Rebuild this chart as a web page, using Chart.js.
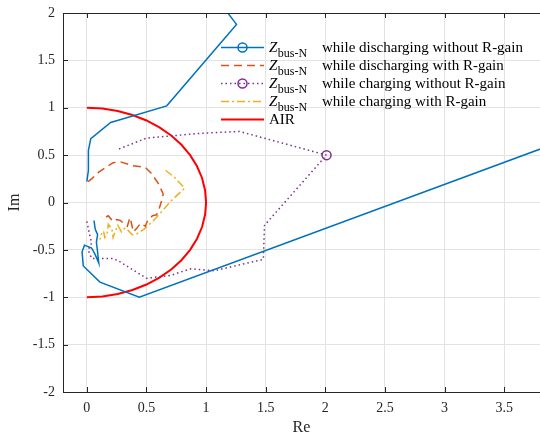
<!DOCTYPE html>
<html>
<head>
<meta charset="utf-8">
<script src="https://cdn.jsdelivr.net/npm/chart.js@4.4.0/dist/chart.umd.min.js"></script>
<style>
  html, body { margin: 0; padding: 0; background: #fff; }
</style>
</head>
<body>
<canvas id="grafico" width="540" height="436"></canvas>
<script>
const xTicks = [0, 0.5, 1, 1.5, 2, 2.5, 3, 3.5];
const yTicks = [-2, -1.5, -1, -0.5, 0, 0.5, 1, 1.5, 2];

// Z_bus-N curves, [Re, Im]; null breaks the line
const descargaSemR = [
  [1.0, 2.3], [1.255, 1.88], [0.67, 1.02], [0.2, 0.845], [0.033, 0.675], [0.013, 0.55],
  [0.013, 0.34], [0.0, 0.22], null,
  [0.06, -0.19], [0.07, -0.28], [0.09, -0.34], [0.08, -0.42], [0.09, -0.52], [0.1, -0.64],
  [0.07, -0.55], [0.04, -0.48], [-0.02, -0.45], [-0.04, -0.52], [-0.03, -0.67],
  [0.11, -0.84], [0.44, -1.0], [4.2, 0.75]
];
const descargaComR = [
  [0.01, 0.22], [0.04, 0.25], [0.1, 0.32], [0.22, 0.42], [0.28, 0.43], [0.38, 0.39],
  [0.49, 0.37], [0.54, 0.31], [0.6, 0.2], [0.64, 0.09], [0.63, 0.03], [0.61, -0.05],
  [0.585, -0.13], [0.55, -0.14], [0.51, -0.19], [0.49, -0.25], [0.45, -0.22], [0.42, -0.27],
  [0.39, -0.31], [0.37, -0.2], [0.36, -0.16], [0.34, -0.25], [0.31, -0.22], [0.28, -0.19],
  [0.25, -0.18], [0.22, -0.2], [0.18, -0.14], [0.15, -0.16], [0.12, -0.15]
];
const cargaSemR = [
  [2.01, 0.5], [1.28, 0.75], [0.95, 0.73], [0.5, 0.68], [0.26, 0.56], null,
  [0.0, -0.2], [0.02, -0.32], [0.04, -0.43], [0.01, -0.5], [0.04, -0.59], [0.22, -0.59],
  [0.27, -0.62], [0.5, -0.8], [0.7, -0.77], [0.87, -0.7], [1.07, -0.72], [1.48, -0.6],
  [1.49, -0.24], [2.01, 0.5]
];
const cargaComR = [
  [0.66, 0.34], [0.74, 0.26], [0.82, 0.15], [0.76, 0.08], [0.7, 0.01], [0.64, -0.08],
  [0.56, -0.19], [0.48, -0.28], [0.42, -0.33], [0.38, -0.34], [0.35, -0.3], [0.32, -0.27],
  [0.29, -0.31], [0.26, -0.24], [0.24, -0.3], [0.22, -0.37], [0.21, -0.28], [0.18, -0.23],
  [0.17, -0.33], [0.15, -0.37], [0.14, -0.3], [0.12, -0.34], [0.11, -0.39]
];
// AIR boundary: right half of the unit circle
const air = [
  [0, 1], [0.1305, 0.9914], [0.2588, 0.9659], [0.3827, 0.9239], [0.5, 0.866], [0.6088, 0.7934],
  [0.7071, 0.7071], [0.7934, 0.6088], [0.866, 0.5], [0.9239, 0.3827], [0.9659, 0.2588],
  [0.9914, 0.1305], [1, 0], [0.9914, -0.1305], [0.9659, -0.2588], [0.9239, -0.3827],
  [0.866, -0.5], [0.7934, -0.6088], [0.7071, -0.7071], [0.6088, -0.7934], [0.5, -0.866],
  [0.3827, -0.9239], [0.2588, -0.9659], [0.1305, -0.9914], [0, -1]
];

const legendas = [
  'while discharging without R-gain',
  'while discharging with R-gain',
  'while charging without R-gain',
  'while charging with R-gain',
  'AIR'
];

const pontos = arr => arr.map(p => p ? { x: p[0], y: p[1] } : { x: null, y: null });

const serie = (dados, cor, traco, largura, marcador) => ({
  data: pontos(dados),
  borderColor: cor,
  borderWidth: largura,
  borderDash: traco,
  backgroundColor: cor,
  pointRadius: ctx => (marcador && ctx.dataIndex === 0) ? 4.5 : 0,
  pointBorderWidth: 1.5,
  pointBorderColor: cor,
  pointBackgroundColor: 'rgba(0,0,0,0)',
  pointHoverRadius: 0,
  tension: 0,
  spanGaps: false,
  fill: false,
  marcador: marcador
});

const datasets = [
  serie(descargaSemR, '#0072BD', [], 1.5, true),
  serie(descargaComR, '#D95319', [8, 5], 1.5, false),
  serie(cargaSemR, '#7E2F8E', [1.5, 3], 1.5, true),
  serie(cargaComR, '#EDB120', [8, 3, 2, 3], 1.5, false),
  serie(air, '#FF0000', [], 2, false)
];

// frame with inward ticks, plus the legend with subscripted labels
const molduraEixos = {
  id: 'molduraEixos',
  afterDraw(chart) {
    const ctx = chart.ctx;
    const a = chart.chartArea;
    const sx = chart.scales.x, sy = chart.scales.y;
    ctx.save();
    ctx.strokeStyle = '#262626';
    ctx.lineWidth = 1;
    ctx.beginPath();
    ctx.rect(Math.round(a.left) + 0.5, Math.round(a.top) + 0.5,
             Math.round(a.right - a.left) + 1, Math.round(a.bottom - a.top));
    ctx.stroke();
    ctx.beginPath();
    xTicks.forEach(v => {
      const px = Math.round(sx.getPixelForValue(v)) + 0.5;
      ctx.moveTo(px, a.bottom); ctx.lineTo(px, a.bottom - 5);
      ctx.moveTo(px, a.top); ctx.lineTo(px, a.top + 5);
    });
    yTicks.forEach(v => {
      const py = Math.round(sy.getPixelForValue(v)) + 0.5;
      ctx.moveTo(a.left, py); ctx.lineTo(a.left + 5, py);
    });
    ctx.stroke();

    const x0 = 221, x1 = 264, xt = 269, xFrase = 322;
    chart.data.datasets.forEach((ds, i) => {
      const y = 47.5 + 18 * i;
      ctx.strokeStyle = ds.borderColor;
      ctx.lineWidth = ds.borderWidth;
      ctx.setLineDash(ds.borderDash);
      ctx.beginPath(); ctx.moveTo(x0, y); ctx.lineTo(x1, y); ctx.stroke();
      ctx.setLineDash([]);
      if (ds.marcador) {
        ctx.lineWidth = 1.5;
        ctx.beginPath(); ctx.arc((x0 + x1) / 2, y, 4.5, 0, 2 * Math.PI); ctx.stroke();
      }
      ctx.fillStyle = '#000';
      ctx.textBaseline = 'alphabetic';
      ctx.textAlign = 'left';
      if (i < 4) {
        ctx.font = 'italic 15px "Liberation Serif"';
        ctx.fillText('Z', xt, y + 4);
        const wz = ctx.measureText('Z').width;
        ctx.font = '12px "Liberation Serif"';
        ctx.fillText('bus-N', xt + wz + 0.5, y + 9);
        ctx.font = '15px "Liberation Serif"';
        ctx.fillText(legendas[i], xFrase, y + 4);
      } else {
        ctx.font = '15px "Liberation Serif"';
        ctx.fillText(legendas[i], xt, y + 4);
      }
    });
    ctx.restore();
  }
};

const fonteEixo = { family: '"Liberation Serif"', size: 14 };

new Chart(document.getElementById('grafico').getContext('2d'), {
  type: 'line',
  data: { datasets: datasets },
  options: {
    responsive: false,
    animation: false,
    devicePixelRatio: 1,
    layout: { autoPadding: false, padding: { top: 13, right: 0, left: 0, bottom: 0 } },
    plugins: { legend: { display: false }, tooltip: { enabled: false } },
    scales: {
      x: {
        type: 'linear',
        min: -0.2,
        max: 3.8,
        afterBuildTicks: s => { s.ticks = xTicks.map(v => ({ value: v })); },
        afterFit: s => { s.height = 44; s.paddingLeft = 0; s.paddingRight = 0; },
        grid: { color: '#e3e3e3', lineWidth: 1, drawTicks: false },
        border: { display: false },
        ticks: { color: '#262626', font: fonteEixo, padding: 8, maxRotation: 0,
                 autoSkip: false, callback: v => String(v) },
        title: { display: true, text: 'Re', color: '#262626',
                 font: { family: '"Liberation Serif"', size: 16, lineHeight: 1 },
                 padding: { top: 0, bottom: 0 } }
      },
      y: {
        type: 'linear',
        min: -2,
        max: 2,
        afterBuildTicks: s => { s.ticks = yTicks.map(v => ({ value: v })); },
        afterFit: s => { s.width = 63; s.paddingTop = 0; s.paddingBottom = 0; },
        grid: { color: '#e3e3e3', lineWidth: 1, drawTicks: false },
        border: { display: false },
        ticks: { color: '#262626', font: fonteEixo, padding: 8,
                 autoSkip: false, callback: v => String(v) },
        title: { display: true, text: 'Im', color: '#262626',
                 font: { family: '"Liberation Serif"', size: 16, lineHeight: 1 },
                 padding: { top: 7, bottom: 0 } }
      }
    }
  },
  plugins: [molduraEixos]
});
</script>
</body>
</html>
